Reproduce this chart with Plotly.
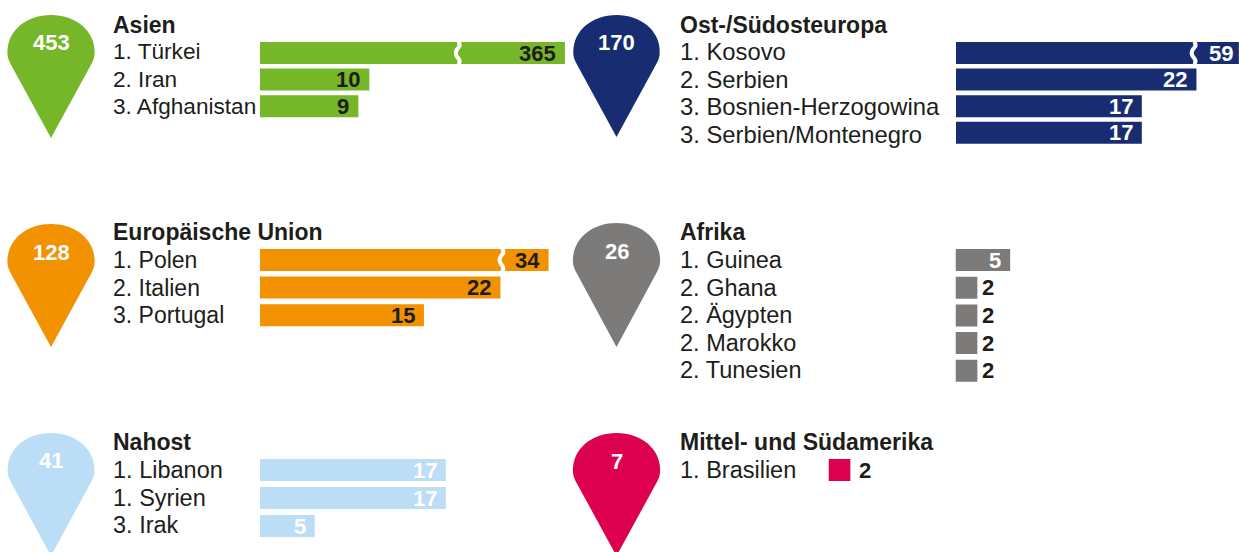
import plotly.graph_objects as go

# ---- data ----
asien_labels = ["1. Türkei", "2. Iran", "3. Afghanistan"]
asien_values = [365, 10, 9]
asien_total = 453
ost_labels = ["1. Kosovo", "2. Serbien", "3. Bosnien-Herzogowina", "3. Serbien/Montenegro"]
ost_values = [59, 22, 17, 17]
ost_total = 170
eu_labels = ["1. Polen", "2. Italien", "3. Portugal"]
eu_values = [34, 22, 15]
eu_total = 128
afrika_labels = ["1. Guinea", "2. Ghana", "2. Ägypten", "2. Marokko", "2. Tunesien"]
afrika_values = [5, 2, 2, 2, 2]
afrika_total = 26
nahost_labels = ["1. Libanon", "1. Syrien", "3. Irak"]
nahost_values = [17, 17, 5]
nahost_total = 41
sued_labels = ["1. Brasilien"]
sued_values = [2]
sued_total = 7

# Bars over the printed length are shortened at an axis break: {true value: (drawn length, break at, label inset)}
broken = {365: (27.9, 18.05, -7), 34: (26.4, 22.05, -7), 59: (25.88, 21.7, -3.5)}

W, H = 1239, 552
UNIT = 10.93  # px per unit
DARK = "#1d1d1b"
FONT = "Liberation Sans"
SIZE = 22

panels = [
    dict(title="Asien", labels=asien_labels, values=asien_values, total=asien_total, color="#76b72a", fs=22.6, up=1.5,
         num_color=DARK, cx=51, top=15, tip=138, hw=43.6, ty=42, title_y=25, text_x=113, x0=260, cy=53, pitch=26.6, gap=3),
    dict(title="Ost-/Südosteuropa", labels=ost_labels, values=ost_values, total=ost_total, color="#182d71", fs=23.8, up=1.5,
         num_color="#ffffff", cx=616.5, top=15, tip=137, hw=43.2, ty=42, title_y=25, text_x=680, x0=956, cy=53, pitch=26.6, gap=3),
    dict(title="Europäische Union", labels=eu_labels, values=eu_values, total=eu_total, color="#f39200", fs=23, up=0,
         num_color=DARK, cx=51, top=224, tip=347, hw=43.6, ty=252, title_y=232, text_x=113, x0=260, cy=260, pitch=27.6, gap=3),
    dict(title="Afrika", labels=afrika_labels, values=afrika_values, total=afrika_total, color="#7c7b79", fs=23.5, up=0,
         num_color="#ffffff", cx=616.5, top=223, tip=347, hw=43.6, ty=251, title_y=232, text_x=680, x0=955.5, cy=260, pitch=27.7, gap=3),
    dict(title="Nahost", labels=nahost_labels, values=nahost_values, total=nahost_total, color="#bbddf6", fs=23.5, up=0,
         num_color="#ffffff", cx=51, top=433, tip=556, hw=43.4, ty=460, title_y=442, text_x=113, x0=260, cy=470, pitch=28, gap=3),
    dict(title="Mittel- und Südamerika", labels=sued_labels, values=sued_values, total=sued_total, color="#dc004f", fs=23.5, up=0,
         num_color=DARK, cx=616.5, top=433, tip=556, hw=43.6, ty=461, title_y=442, text_x=680, x0=828.5, cy=470, pitch=28, gap=7),
]

fig = go.Figure()
shapes, annos = [], []
layout_axes = {}


def pin_path(cx, top, tip, hw):
    r = hw
    cy = top + hw * 0.85
    k = 0.5523
    lx, ly = cx - hw * 0.94, cy + hw * 0.25
    rx = cx + hw * 0.94
    return (f"M {cx} {tip} L {lx} {ly} "
            f"C {lx - 2} {ly - 4} {cx - r} {cy + r * 0.1} {cx - r} {cy} "
            f"C {cx - r} {cy - r * 0.5} {cx - r * k} {top} {cx} {top} "
            f"C {cx + r * k} {top} {cx + r} {cy - r * 0.5} {cx + r} {cy} "
            f"C {cx + r} {cy + r * 0.1} {rx + 2} {ly - 4} {rx} {ly} Z")


def wiggle_path(x, y0, y1):
    h = (y1 - y0) / 4
    return (f"M {x + 1} {y0} Q {x + 4} {y0 + h * 0.7} {x} {y0 + h * 1.3} Q {x - 3} {y0 + h * 2} {x} {y0 + h * 2.7} "
            f"Q {x + 4} {y0 + h * 3.4} {x + 1} {y1}")


for i, p in enumerate(panels, start=1):
    xname, yname = ("x", "y") if i == 1 else (f"x{i}", f"y{i}")
    xkey, ykey = ("xaxis", "yaxis") if i == 1 else (f"xaxis{i}", f"yaxis{i}")
    n = len(p["labels"])
    drawn = [broken[v][0] if v in broken else v for v in p["values"]]

    fig.add_trace(go.Bar(
        y=p["labels"], x=drawn, orientation="h", width=22 / p["pitch"],
        marker=dict(color=p["color"], line=dict(width=0)),
        xaxis=xname, yaxis=yname, showlegend=False, hoverinfo="skip",
    ))

    ptop = p["cy"] - p["pitch"] / 2
    pbot = p["cy"] + p["pitch"] * (n - 0.5)
    span = W - p["x0"]
    layout_axes[xkey] = dict(domain=[p["x0"] / W, 1], range=[0, span / UNIT], visible=False,
                             anchor=yname, fixedrange=True)
    layout_axes[ykey] = dict(domain=[max(0, 1 - pbot / H), 1 - ptop / H], type="category",
                             categoryorder="array", categoryarray=p["labels"],
                             range=[n - 0.5, -0.5], visible=False, anchor=xname, fixedrange=True)

    # pin
    shapes.append(dict(type="path", xref="x7", yref="y7", path=pin_path(p["cx"], p["top"], p["tip"], p["hw"]),
                       fillcolor=p["color"], line=dict(width=0), layer="below"))
    annos.append(dict(xref="x7", yref="y7", x=p["cx"], y=p["ty"], text=f"<b>{p['total']}</b>", showarrow=False,
                      xanchor="center", yanchor="middle", font=dict(family=FONT, size=SIZE, color="#ffffff")))
    # title
    annos.append(dict(xref="x7", yref="y7", x=p["text_x"], y=p["title_y"], text=f"<b>{p['title']}</b>",
                      showarrow=False, xanchor="left", yanchor="middle", xshift=-2,
                      font=dict(family=FONT, size=23, color=DARK)))

    for k, (lab, val, d) in enumerate(zip(p["labels"], p["values"], drawn)):
        annos.append(dict(xref="x7", yref=yname, x=p["text_x"], y=lab, text=lab, showarrow=False,
                          xanchor="left", yanchor="middle", xshift=-2,
                          yshift=p["up"] - k * (27.6 - p["pitch"]),
                          font=dict(family=FONT, size=p["fs"], color=DARK)))
        outside = val == 2
        inset = broken[val][2] if val in broken else -7
        annos.append(dict(xref=xname, yref=yname, x=d, y=lab, text=f"<b>{val}</b>", showarrow=False,
                          xanchor="left" if outside else "right", yanchor="middle",
                          xshift=p["gap"] if outside else inset,
                          font=dict(family=FONT, size=SIZE, color=DARK if outside else p["num_color"])))
        if val in broken:
            by = p["cy"] + k * p["pitch"]
            bx = p["x0"] + broken[val][1] * UNIT
            shapes.append(dict(type="path", xref="x7", yref="y7", layer="above",
                               path=wiggle_path(bx, by - 11.5, by + 11.5),
                               line=dict(color="#ffffff", width=4), fillcolor="rgba(0,0,0,0)"))

# helper pixel-space axes for pin glyphs and text placement
layout_axes["xaxis7"] = dict(domain=[0, 1], range=[0, W], visible=False, anchor="y7", fixedrange=True)
layout_axes["yaxis7"] = dict(domain=[0, 1], range=[H, 0], visible=False, anchor="x7", fixedrange=True)
fig.add_trace(go.Scatter(x=[0], y=[0], xaxis="x7", yaxis="y7", mode="markers", marker=dict(opacity=0),
                         showlegend=False, hoverinfo="skip"))

fig.update_layout(width=W, height=H, margin=dict(l=0, r=0, t=0, b=0), paper_bgcolor="#ffffff",
                  plot_bgcolor="rgba(0,0,0,0)", shapes=shapes, annotations=annos, showlegend=False,
                  barmode="overlay", **layout_axes)

fig.write_html("out.html", config={"displayModeBar": False},
               post_script="document.body.style.margin='0';document.body.style.overflow='hidden';")
